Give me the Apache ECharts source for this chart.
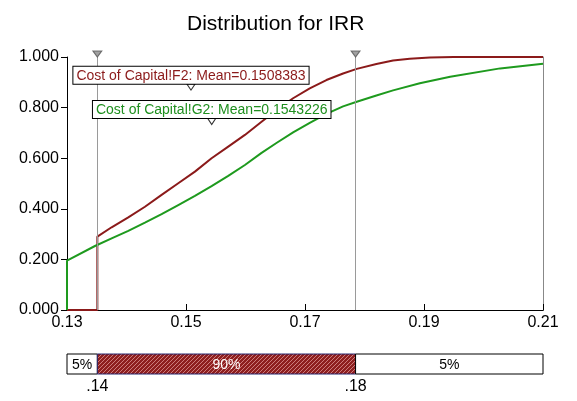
<!DOCTYPE html>
<html>
<head>
<meta charset="utf-8">
<script src="https://cdn.jsdelivr.net/npm/echarts@6/dist/echarts.min.js"></script>
<style>
  html, body { margin: 0; padding: 0; background: #fff; }
  #chart { width: 577px; height: 401px; }
</style>
</head>
<body>
<div id="chart"></div>
<script>
// cumulative curves
const redX = [0.13, 0.1351, 0.1351, 0.1375, 0.1403, 0.1431, 0.1459, 0.1487, 0.1515, 0.1543, 0.1571, 0.1599, 0.1627, 0.1652, 0.168, 0.1708, 0.1736, 0.1764, 0.1787, 0.182, 0.1848, 0.1876, 0.191, 0.195, 0.21];
const redY = [0, 0, 0.29, 0.327, 0.366, 0.408, 0.455, 0.501, 0.547, 0.6, 0.646, 0.692, 0.744, 0.79, 0.837, 0.876, 0.909, 0.935, 0.953, 0.972, 0.986, 0.993, 0.998, 1.0, 1.0];
const greenX = [0.13, 0.13, 0.1347, 0.1375, 0.1403, 0.1431, 0.1459, 0.1487, 0.1515, 0.1543, 0.1571, 0.1599, 0.1627, 0.1652, 0.168, 0.1708, 0.1736, 0.1764, 0.1787, 0.182, 0.1848, 0.1893, 0.1944, 0.2028, 0.21];
const greenY = [0, 0.195, 0.253, 0.283, 0.313, 0.345, 0.379, 0.415, 0.451, 0.49, 0.53, 0.573, 0.621, 0.66, 0.702, 0.74, 0.775, 0.805, 0.823, 0.848, 0.868, 0.896, 0.922, 0.955, 0.973];

const seriesNames = ["Cost of Capital!F2", "Cost of Capital!G2"];
const means = [0.1508383, 0.1543226];

// 5% / 90% / 5% band under the chart
const bandEdges = [0.13, 0.1351, 0.1785, 0.21];
const bandLabels = ["5%", "90%", "5%"];
const bandTicks = [".14", ".18"];

const RED = "#8b1a1a";
const GREEN = "#1e9a1e";
const FONT = "Liberation Sans, Arial, sans-serif";

const zip = (xs, ys) => xs.map((x, i) => [x, ys[i]]);

// hatch pattern for the 90% part
const hatch = document.createElement("canvas");
hatch.width = 4;
hatch.height = 4;
(function () {
	const c = hatch.getContext("2d");
	c.fillStyle = "#8e1f1f";
	c.fillRect(0, 0, 4, 4);
	c.strokeStyle = "rgba(255,200,200,0.55)";
	c.lineWidth = 1;
	c.beginPath();
	c.moveTo(-1, 5);
	c.lineTo(5, -1);
	c.stroke();
})();

const bandData = bandLabels.map((l, i) => [bandEdges[i], bandEdges[i + 1]]);

const chart = echarts.init(document.getElementById("chart"));

const meanLabel = (name, color, mean, y) => ({
	symbol: "triangle",
	symbolSize: [8, 6],
	symbolRotate: 180,
	itemStyle: { color: "#fff", borderColor: "#333", borderWidth: 1 },
	label: {
		show: true,
		position: "top",
		distance: 0,
		formatter: name + ": Mean=" + mean,
		color,
		fontSize: 14,
		fontFamily: FONT,
		backgroundColor: "#fff",
		borderColor: "#000",
		borderWidth: 1,
		padding: [2, 3, 1, 3],
	},
	data: [{ coord: [mean, y] }],
	silent: true,
});

chart.setOption({
	animation: false,
	title: {
		text: "Distribution for IRR",
		left: 182,
		top: 9,
		textStyle: { fontSize: 21, fontWeight: "normal", color: "#000", fontFamily: FONT },
	},
	grid: [
		{ left: 67, right: 34, top: 57, bottom: 91 },
		{ left: 67, right: 34, top: 354, height: 20 },
	],
	xAxis: [
		{
			type: "value",
			gridIndex: 0,
			min: 0.13,
			max: 0.21,
			interval: 0.02,
			axisLine: { lineStyle: { color: "#000", width: 1 } },
			axisTick: { inside: true, length: 6, lineStyle: { color: "#000" } },
			axisLabel: {
				color: "#000",
				fontSize: 16,
				fontFamily: FONT,
				margin: 5,
				formatter: (v) => v.toFixed(2),
			},
			splitLine: { show: false },
		},
		{
			type: "value",
			gridIndex: 0,
			position: "top",
			min: 0.13,
			max: 0.21,
			axisLine: { show: true, lineStyle: { color: "#000", width: 1 } },
			axisTick: { show: false },
			axisLabel: { show: false },
			splitLine: { show: false },
		},
		{ type: "value", gridIndex: 1, min: 0.13, max: 0.21, show: false },
	],
	yAxis: [
		{
			type: "value",
			gridIndex: 0,
			min: 0,
			max: 1,
			interval: 0.2,
			axisLine: { show: true, lineStyle: { color: "#000", width: 1 } },
			axisTick: { show: true, length: 6, lineStyle: { color: "#000" } },
			axisLabel: {
				color: "#000",
				fontSize: 16,
				fontFamily: FONT,
				margin: 8,
				formatter: (v) => v.toFixed(3),
			},
			splitLine: { show: false },
		},
		{
			type: "value",
			gridIndex: 0,
			position: "right",
			min: 0,
			max: 1,
			axisLine: { show: true, lineStyle: { color: "#888", width: 1 } },
			axisTick: { show: false },
			axisLabel: { show: false },
			splitLine: { show: false },
		},
		{ type: "value", gridIndex: 1, min: 0, max: 1, show: false },
	],
	series: [
		{
			name: seriesNames[0],
			type: "line",
			xAxisIndex: 0,
			yAxisIndex: 0,
			data: zip(redX, redY),
			showSymbol: false,
			lineStyle: { color: RED, width: 2 },
			z: 3,
			markLine: {
				silent: true,
				symbol: "none",
				precision: 5,
				label: { show: false },
				lineStyle: { color: "#9a9a9a", width: 1, type: "solid" },
				data: [{ xAxis: bandEdges[1] }, { xAxis: bandEdges[2] }],
			},
			markPoint: meanLabel(seriesNames[0], RED, means[0], 0.881),
		},
		{
			name: seriesNames[1],
			type: "line",
			xAxisIndex: 0,
			yAxisIndex: 0,
			data: zip(greenX, greenY),
			showSymbol: false,
			lineStyle: { color: GREEN, width: 2 },
			z: 4,
			markPoint: meanLabel(seriesNames[1], "#1f8f1f", means[1], 0.745),
		},
		{
			// grey triangles at the top of the 5% / 95% lines
			type: "scatter",
			xAxisIndex: 0,
			yAxisIndex: 0,
			data: [[bandEdges[1], 1], [bandEdges[2], 1]],
			symbol: "triangle",
			symbolSize: [9, 6],
			symbolRotate: 180,
			symbolOffset: [0, -3],
			itemStyle: { color: "#8a8a8a", borderColor: "#555", borderWidth: 1 },
			clip: false,
			silent: true,
			z: 5,
		},
		{
			type: "custom",
			xAxisIndex: 2,
			yAxisIndex: 2,
			data: bandData,
			encode: { x: [0, 1] },
			silent: true,
			renderItem: (params, api) => {
				const i = params.dataIndex;
				const p0 = api.coord([api.value(0), 1]);
				const p1 = api.coord([api.value(1), 0]);
				const children = [
					{
						type: "rect",
						shape: { x: p0[0], y: p0[1], width: p1[0] - p0[0], height: p1[1] - p0[1] },
						style: {
							fill: i === 1 ? { image: hatch, repeat: "repeat" } : "#fff",
							stroke: i === 1 ? "#2a2a70" : "#000",
							lineWidth: 1,
						},
					},
					{
						type: "text",
						x: (p0[0] + p1[0]) / 2,
						y: (p0[1] + p1[1]) / 2 + 1,
						style: {
							text: bandLabels[i],
							fill: i === 1 ? "#fff" : "#000",
							align: "center",
							verticalAlign: "middle",
							font: "14px " + FONT,
						},
					},
				];
				if (i === 1) {
					[p0[0], p1[0]].forEach((x, k) => {
						children.push({
							type: "text",
							x,
							y: p1[1] + 13,
							style: {
								text: bandTicks[k],
								fill: "#000",
								align: "center",
								verticalAlign: "middle",
								font: "16px " + FONT,
							},
						});
					});
				}
				return { type: "group", children };
			},
		},
	],
});
</script>
</body>
</html>
